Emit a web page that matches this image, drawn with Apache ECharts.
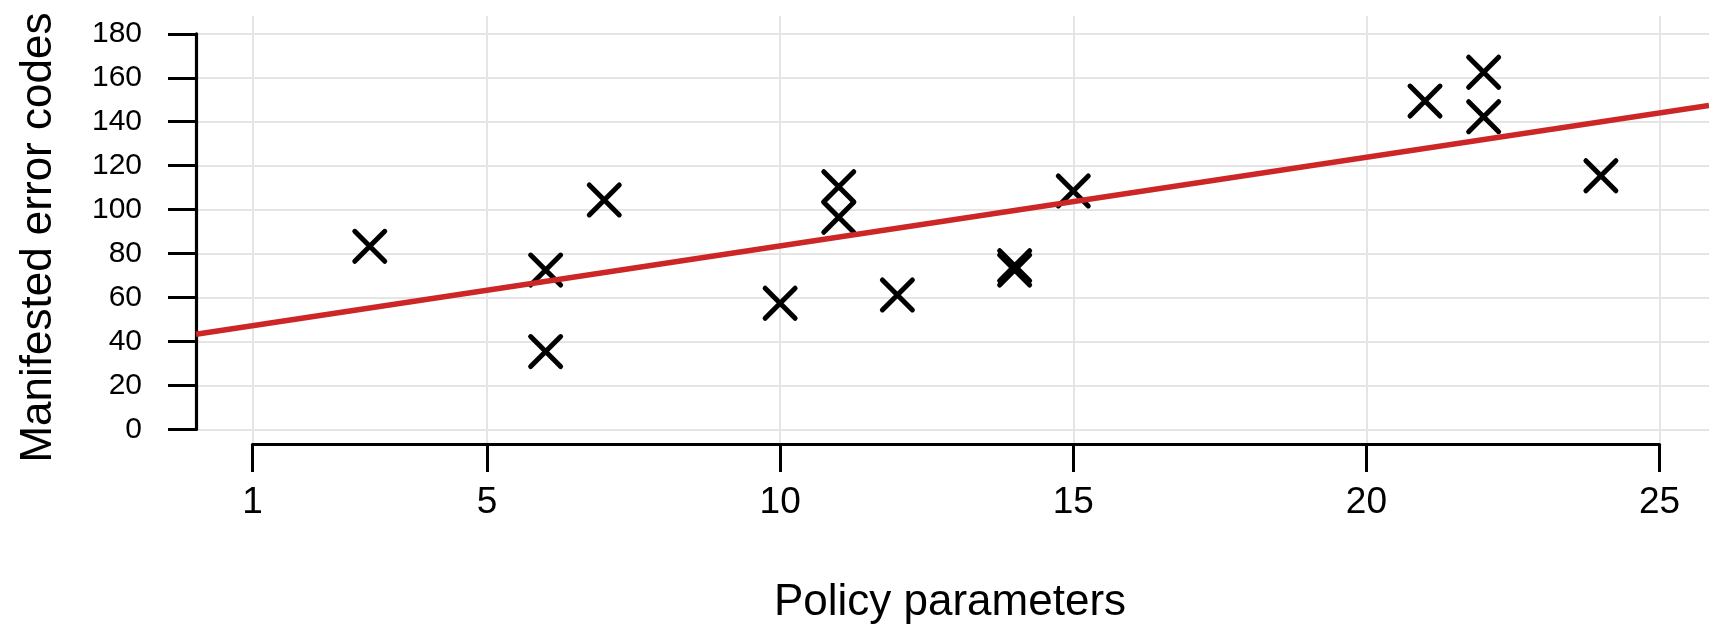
<!DOCTYPE html>
<html>
<head>
<meta charset="utf-8">
<script src="https://cdn.jsdelivr.net/npm/echarts@6/dist/echarts.min.js"></script>
<style>
  html, body { margin: 0; padding: 0; background: #fff; }
  #chart { width: 1709px; height: 630px; }
</style>
</head>
<body>
<div id="chart"></div>
<script>
// ---- data ----
const xTickValues = [1, 5, 10, 15, 20, 25];
const pointsX = [3, 6, 6, 7, 10, 11, 11, 12, 14, 14, 15, 21, 22, 22, 24];
const pointsY = [83.3, 72.5, 35.4, 104.4, 57.4, 110.4, 96.5, 61.2, 72.5, 74.5, 108.5, 149.4, 162.5, 142.3, 115.4];
const fitX = [0.036, 25.844];
const fitY = [43.3, 147.4];
const xTitle = 'Policy parameters';
const yTitle = 'Manifested error codes';

const FONT = '"Liberation Sans", Arial, Helvetica, sans-serif';
const points = pointsX.map((x, i) => [x, pointsY[i]]);
const fitLine = fitX.map((x, i) => [x, fitY[i]]);

const chart = echarts.init(document.getElementById('chart'), null, { renderer: 'canvas' });
chart.setOption({
  animation: false,
  backgroundColor: '#fff',
  grid: [
    // data grid + y axis + horizontal grid lines
    { left: 196, right: 0, top: 33.8, bottom: 200.6 },
    // range-frame x axis + vertical grid lines
    { left: 252.5, right: 49.5, top: 16, bottom: 185 }
  ],
  xAxis: [
    {
      gridIndex: 0, type: 'value', min: fitX[0], max: fitX[1],
      show: false, splitLine: { show: false }
    },
    {
      gridIndex: 1, type: 'value', min: xTickValues[0], max: xTickValues[xTickValues.length - 1],
      position: 'bottom',
      axisLine: { show: true, onZero: false, lineStyle: { color: '#000', width: 3.2 } },
      axisTick: { show: true, inside: false, length: 28, customValues: xTickValues,
                  lineStyle: { color: '#000', width: 3 } },
      axisLabel: { show: true, customValues: xTickValues, margin: 40, color: '#000',
                   fontFamily: FONT, fontSize: 37 },
      splitLine: { show: true, lineStyle: { color: '#e5e5e5', width: 2 } },
      name: xTitle, nameLocation: 'middle', nameGap: 137,
      nameTextStyle: { color: '#000', fontFamily: FONT, fontSize: 44, padding: [0, 12, 0, 0] }
    }
  ],
  yAxis: [
    {
      gridIndex: 0, type: 'value', min: 0, max: 180, interval: 20,
      axisLine: { show: true, onZero: false, lineStyle: { color: '#000', width: 3.2 } },
      axisTick: { show: true, inside: false, length: 28, lineStyle: { color: '#000', width: 3 } },
      axisLabel: { show: true, margin: 54, color: '#000', fontFamily: FONT, fontSize: 30 },
      splitLine: { show: true, lineStyle: { color: '#e5e5e5', width: 2 } },
      name: yTitle, nameLocation: 'middle', nameGap: 135, nameRotate: 90,
      nameTextStyle: { color: '#000', fontFamily: FONT, fontSize: 44, padding: [0, 12, 0, 0] }
    },
    {
      gridIndex: 1, type: 'value', min: 0, max: 1, show: false, splitLine: { show: false }
    }
  ],
  series: [
    {
      type: 'scatter', xAxisIndex: 0, yAxisIndex: 0, data: points,
      symbol: 'path://M0,0 L10,10 M10,0 L0,10', symbolSize: 30,
      itemStyle: { color: 'rgba(0,0,0,0)', borderColor: '#000', borderWidth: 5,
                   borderCap: 'round', opacity: 1 },
      emphasis: { disabled: true }, z: 3
    },
    {
      type: 'line', xAxisIndex: 0, yAxisIndex: 0, data: fitLine,
      showSymbol: false, symbol: 'none',
      lineStyle: { color: '#cd2626', width: 5.5 },
      emphasis: { disabled: true }, z: 4
    }
  ]
});
</script>
</body>
</html>
